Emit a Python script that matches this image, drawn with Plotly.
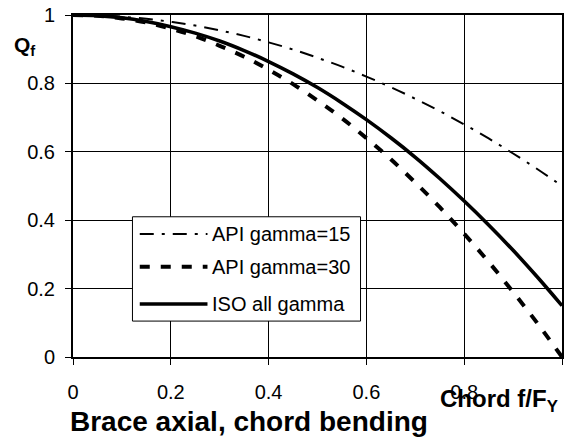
import plotly.graph_objects as go

# Chord stress ratio f/Fy
chord_ratio = [0.00, 0.05, 0.10, 0.15, 0.20, 0.25, 0.30, 0.35, 0.40, 0.45, 0.50,
               0.55, 0.60, 0.65, 0.70, 0.75, 0.80, 0.85, 0.90, 0.95, 1.00]

# Chord stress factor Qf for each design basis
qf_api_gamma15 = [1.000, 0.999, 0.995, 0.989, 0.980, 0.969, 0.955, 0.939, 0.920, 0.899, 0.875,
                  0.849, 0.820, 0.789, 0.755, 0.719, 0.680, 0.639, 0.595, 0.549, 0.500]
qf_api_gamma30 = [1.000, 0.998, 0.990, 0.978, 0.960, 0.938, 0.910, 0.878, 0.840, 0.798, 0.750,
                  0.698, 0.640, 0.578, 0.510, 0.438, 0.360, 0.278, 0.190, 0.098, 0.000]
qf_iso_all = [1.000, 0.998, 0.992, 0.981, 0.966, 0.947, 0.924, 0.896, 0.864, 0.828, 0.788,
              0.743, 0.694, 0.641, 0.584, 0.522, 0.456, 0.386, 0.312, 0.233, 0.150]

series_names = ["API gamma=15", "API gamma=30", "ISO all gamma"]
tick_vals = [0, 0.2, 0.4, 0.6, 0.8, 1]

FONT = "Liberation Sans, Arial, sans-serif"
styles = [
    dict(color="black", width=2, dash="14px,8px,3px,8px"),
    dict(color="black", width=4, dash="10px,11px"),
    dict(color="black", width=3.6, dash="solid"),
]

fig = go.Figure()
for ys, st in zip([qf_api_gamma15, qf_api_gamma30, qf_iso_all], styles):
    fig.add_trace(go.Scatter(x=chord_ratio, y=ys, mode="lines", line=st,
                             line_shape="spline", showlegend=False,
                             hoverinfo="skip"))

# Hand-drawn legend box inside the plot area
shapes = [dict(type="rect", xref="x", yref="y", x0=0.1216, x1=0.588, y0=0.105, y1=0.410,
               line=dict(color="black", width=1), fillcolor="white", layer="above")]
annotations = []
row_y = [0.360, 0.264, 0.155]
for name, st, ry in zip(series_names, styles, row_y):
    shapes.append(dict(type="line", xref="x", yref="y", x0=0.1365, x1=0.275, y0=ry, y1=ry,
                       line=st, layer="above"))
    annotations.append(dict(xref="x", yref="y", x=0.281, y=ry, text=name, showarrow=False,
                            xanchor="left", yanchor="middle",
                            font=dict(family=FONT, size=20, color="black")))

annotations += [
    dict(xref="paper", yref="paper", x=-0.124, y=0.91, text="<b>Q<sub>f</sub></b>",
         showarrow=False, xanchor="left", yanchor="middle",
         font=dict(family=FONT, size=21, color="black")),
    dict(xref="paper", yref="paper", x=-0.010, y=-0.188, text="<b>Brace axial, chord bending</b>",
         showarrow=False, xanchor="left", yanchor="middle",
         font=dict(family=FONT, size=28, color="black")),
    dict(xref="paper", yref="paper", x=0.995, y=-0.128, text="<b>Chord f/F<sub>Y</sub></b>",
         showarrow=False, xanchor="right", yanchor="middle",
         font=dict(family=FONT, size=24, color="black")),
]

axis_common = dict(
    range=[0, 1], tickvals=tick_vals, showgrid=True, gridcolor="black", gridwidth=1,
    showline=True, linecolor="black", linewidth=2, mirror=True,
    ticks="outside", ticklen=6, tickcolor="black", tickwidth=1,
    zeroline=False, tickfont=dict(family=FONT, size=20, color="black"),
)

fig.update_layout(
    width=565, height=442,
    margin=dict(l=73, r=1, t=15, b=85),
    paper_bgcolor="white", plot_bgcolor="white",
    xaxis=dict(**axis_common, ticklabelstandoff=10),
    yaxis=dict(**axis_common, ticklabelstandoff=6),
    shapes=shapes, annotations=annotations,
    showlegend=False,
)

fig.write_html("out.html")
